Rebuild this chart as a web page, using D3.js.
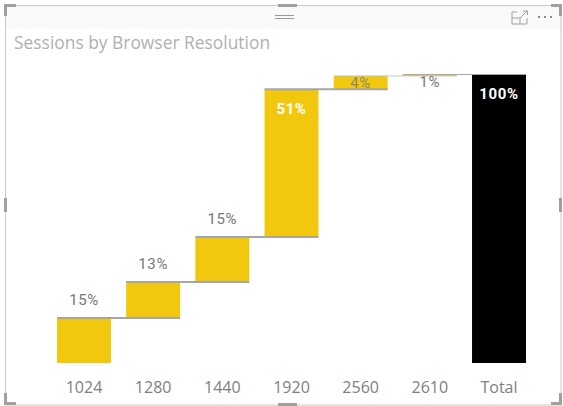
<!DOCTYPE html>
<html><head><meta charset="utf-8">
<script src="https://cdn.jsdelivr.net/npm/d3@7"></script>
<style>html,body{margin:0;padding:0;background:#fff}svg{display:block}</style>
</head><body><svg id="c" width="563" height="406"></svg>
<script>
const categories = ["1024","1280","1440","1920","2560","2610"];
const values = [15.6, 12.5, 15.6, 51.2, 4.6, 0.5];
const valueLabels = ["15%","13%","15%","51%","4%","1%"];
const totalLabel = "Total";
const totalValue = 100;
const totalText = "100%";
const titleText = "Sessions by Browser Resolution";

const svg = d3.select("#c");
const AXC = "#808080", LBL = "#777777", YEL = "#f2c80f", LINE = "#a6a6a6";
const uiFont = "'Open Sans','Noto Sans',sans-serif";
const numFont = "Roboto,'Noto Sans',sans-serif";

// frame chrome
svg.append("rect").attr("x",6).attr("y",6).attr("width",555).attr("height",23).attr("fill","#f9f9f9");
svg.append("rect").attr("x",5.5).attr("y",5.5).attr("width",555.5).attr("height",399.5)
  .attr("fill","none").attr("stroke","#c8c8c8").attr("stroke-width",1);
const handle = "#a0a0a0";
[[4,4,12,3],[4,4,3,12],[551,4,11,3],[559,4,3,12],[4,393,3,12],[4,402,12,3],[559,393,3,12],[551,402,11,3],
 [278,4,19,3],[278,403,19,3],[4,198,3,14],[559,198,3,14]].forEach(r=>{
  svg.append("rect").attr("x",r[0]).attr("y",r[1]).attr("width",r[2]).attr("height",r[3]).attr("fill",handle);
});
[15.5,18.5].forEach(y=>svg.append("line").attr("x1",275).attr("x2",294).attr("y1",y).attr("y2",y).attr("stroke","#9a9a9a"));
// focus icon
const ic = svg.append("g").attr("fill","none").attr("stroke","#a0a0a0");
ic.append("path").attr("d","M517 12H512V24H527V18M512 18H520V24M520 18L527 11M523 11H527.5V15");
[539,545,551].forEach(x=>svg.append("rect").attr("x",x-1).attr("y",16).attr("width",2).attr("height",2).attr("fill","#8a8a8a"));

svg.append("text").text(titleText).attr("x",14).attr("y",48.5)
  .attr("font-family",uiFont).attr("font-size",17.4).attr("fill","#b0b0b0");

// scales
const x = d3.scaleBand().domain([...categories,totalLabel]).range([49.4,533.6]).paddingInner(0.22).paddingOuter(0.11);
const y = d3.scaleLinear().domain([0,100]).range([363,74.5]);

// cumulative
let run = 0;
const rows = categories.map((c,i)=>{const s=run; run+=values[i]; return {c,start:s,end:run,label:valueLabels[i]};});

svg.append("g").selectAll("rect").data(rows).join("rect")
  .attr("x",d=>x(d.c)).attr("width",x.bandwidth())
  .attr("y",d=>y(d.end)).attr("height",d=>y(d.start)-y(d.end)).attr("fill",YEL);
svg.append("rect").attr("x",x(totalLabel)).attr("width",x.bandwidth())
  .attr("y",y(totalValue)).attr("height",y(0)-y(totalValue)).attr("fill","#000");

// connectors
const all = [...categories,totalLabel];
svg.append("g").selectAll("line").data(rows).join("line")
  .attr("x1",d=>x(d.c))
  .attr("x2",(d,i)=>x(all[i+1])+x.bandwidth())
  .attr("y1",d=>y(d.end)).attr("y2",d=>y(d.end))
  .attr("stroke",(d,i)=>i===4?"#c4c4c4":LINE).attr("stroke-width",(d,i)=>i>=4?1:2);

// value labels
svg.append("g").selectAll("text").data(rows).join("text")
  .attr("x",d=>x(d.c)+x.bandwidth()/2)
  .attr("y",d=>{
    if(d.label==="51%") return y(d.end)+25;
    if(d.label==="4%") return y(d.end)+12;
    if(d.label==="1%") return y(d.end)+12.5;
    return y(d.end)-12.5;
  })
  .attr("text-anchor","middle").attr("font-family",numFont).attr("font-size",15)
  .attr("letter-spacing",0.6)
  .attr("font-weight",d=>d.label==="51%"?700:400)
  .attr("fill",d=>d.label==="51%"?"#fff":(d.label==="4%"?"#8a8a6a":LBL))
  .text(d=>d.label);
svg.append("text").text(totalText).attr("x",x(totalLabel)+x.bandwidth()/2).attr("y",y(totalValue)+24)
  .attr("text-anchor","middle").attr("font-family",numFont).attr("font-size",15).attr("font-weight",700).attr("letter-spacing",0.6).attr("fill","#fff");

// axis
const ax = svg.append("g").attr("transform","translate(0,363)").call(d3.axisBottom(x).tickSize(0).tickPadding(19));
ax.select(".domain").remove();
ax.selectAll("text").attr("font-family",uiFont).attr("font-size",16).attr("fill",AXC);
</script></body></html>
